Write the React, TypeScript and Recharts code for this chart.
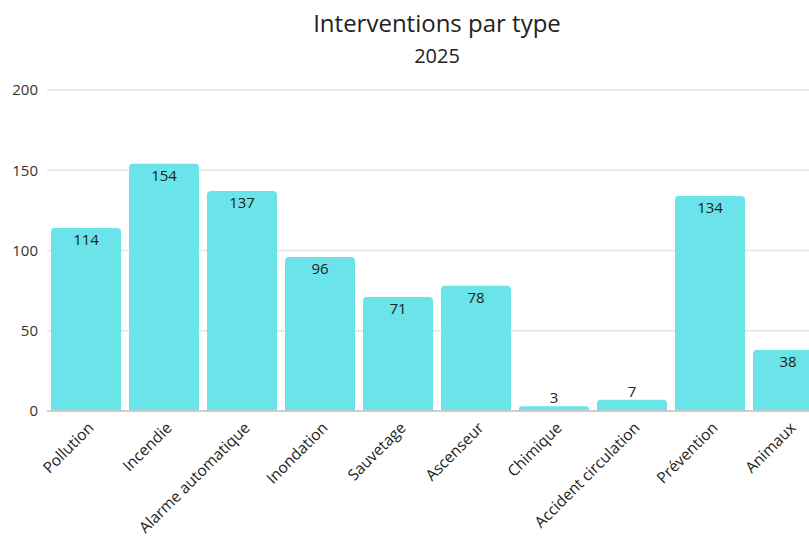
import React from "react";
import { BarChart, Bar, XAxis, YAxis, CartesianGrid, LabelList } from "recharts";

const categories = [
  "Pollution",
  "Incendie",
  "Alarme automatique",
  "Inondation",
  "Sauvetage",
  "Ascenseur",
  "Chimique",
  "Accident circulation",
  "Prévention",
  "Animaux",
];
const values = [114, 154, 137, 96, 71, 78, 3, 7, 134, 38];
const yTicks = [0, 50, 100, 150, 200];

const data = categories.map((name, i) => ({ name, value: values[i] }));

const FONT = "'Open Sans', 'Noto Sans', sans-serif";

const ValueLabel = (props: any) => {
  const { x, y, width, height, value } = props;
  const cx = Number(x) + Number(width) / 2;
  const inside = Number(height) > 24;
  const ty = inside ? Number(y) + 11 : Number(y) - 9;
  return (
    <text
      x={cx}
      y={ty}
      textAnchor="middle"
      dominantBaseline="central"
      fontSize={15}
      fontFamily={FONT}
      fill="#222"
    >
      {value}
    </text>
  );
};

const XTick = (props: any) => {
  const { x, y, payload } = props;
  return (
    <g transform={`translate(${x + 6},${y + 7})`}>
      <text
        x={0}
        y={0}
        dy={4}
        textAnchor="end"
        transform="rotate(-45)"
        fontSize={15.5}
        fontFamily={FONT}
        fill="#222"
      >
        {payload.value}
      </text>
    </g>
  );
};

export default function App() {
  return (
    <div
      style={{
        position: "absolute",
        left: 0,
        top: 0,
        width: 809,
        height: 538,
        overflow: "hidden",
        background: "#fff",
      }}
    >
      <div style={{ position: "absolute", left: 0, top: 0 }}>
        <BarChart
          width={840}
          height={538}
          data={data}
          margin={{ top: 90, right: 13, bottom: 0, left: 7 }}
          barCategoryGap={4}
        >
          <CartesianGrid
            vertical={false}
            stroke="#e3e3e3"
            strokeWidth={1.5}
          />
          <XAxis
            dataKey="name"
            interval={0}
            height={127}
            tick={<XTick />}
            tickLine={false}
            axisLine={{ stroke: "#cccccc", strokeWidth: 2 }}
          />
          <YAxis
            width={40}
            domain={[0, 200]}
            ticks={yTicks}
            tickLine={false}
            axisLine={false}
            tick={{ fontSize: 15, fontFamily: FONT, fill: "#333" }}
            tickMargin={3}
          />
          <Bar
            dataKey="value"
            fill="#6ae4e8"
            radius={[4, 4, 0, 0]}
            isAnimationActive={false}
          >
            <LabelList dataKey="value" content={<ValueLabel />} />
          </Bar>
        </BarChart>
      </div>
      <svg
        width={809}
        height={80}
        style={{ position: "absolute", left: 0, top: 0, pointerEvents: "none" }}
      >
        <text
          x={437}
          y={32}
          textAnchor="middle"
          fontSize={24}
          fontFamily={FONT}
          fill="#222"
        >
          Interventions par type
        </text>
        <text
          x={437}
          y={63}
          textAnchor="middle"
          fontSize={20}
          fontFamily={FONT}
          fill="#222"
        >
          2025
        </text>
      </svg>
    </div>
  );
}
